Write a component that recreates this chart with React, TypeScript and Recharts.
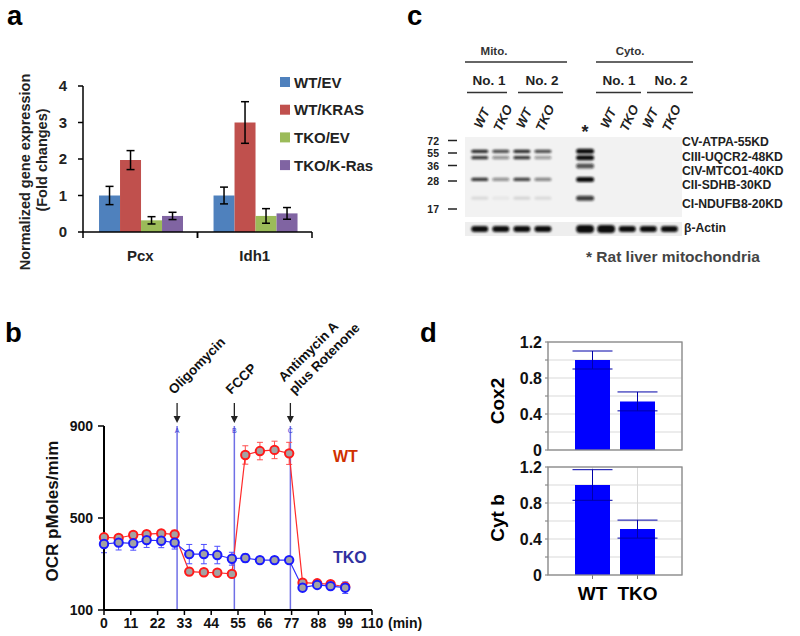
import React from "react";
import {
  BarChart,
  Bar,
  XAxis,
  YAxis,
  CartesianGrid,
  ErrorBar,
  LineChart,
  Line,
  ReferenceLine,
  ScatterChart,
  Scatter,
  ReferenceArea,
} from "recharts";

const FONT = "'Liberation Sans', Arial, Helvetica, sans-serif";

// ---------- a: normalized gene expression ----------
const genes = ["Pcx", "Idh1"];
const groupNames = ["WT/EV", "WT/KRAS", "TKO/EV", "TKO/K-Ras"];
const groupColors = ["#4f81bd", "#c0504d", "#9bbb59", "#8064a2"];
const wtEv = [1.0, 1.0];
const wtEvErr = [0.25, 0.23];
const wtKras = [1.97, 3.0];
const wtKrasErr = [0.26, 0.57];
const tkoEv = [0.32, 0.44];
const tkoEvErr = [0.1, 0.2];
const tkoKras = [0.44, 0.51];
const tkoKrasErr = [0.1, 0.16];
const exprTicks = [0, 1, 2, 3, 4];

// ---------- b: oxygen consumption ----------
const ocrTime = [0, 6, 12, 17.5, 23.5, 29, 35, 41, 46.5, 52.5, 58, 64, 70, 76, 81.5, 87.5, 93, 99];
const wtOcr = [416, 413, 426, 430, 433, 429, 267, 264, 262, 257, 774, 791, 796, 781, 219, 216, 212, 201];
const wtOcrErr = [15, 12, 12, 12, 12, 18, 15, 15, 10, 12, 40, 38, 38, 48, 12, 8, 8, 12];
const tkoOcr = [387, 393, 390, 404, 401, 393, 343, 343, 339, 323, 326, 317, 317, 317, 197, 209, 204, 197];
const tkoOcrErr = [38, 32, 30, 32, 30, 28, 42, 42, 38, 28, 18, 15, 15, 10, 15, 10, 10, 25];
const ocrXTicks = [0, 11, 22, 33, 44, 55, 66, 77, 88, 99, 110];
const ocrYTicks = [100, 500, 900];
const injectionTimes = [30, 53.5, 76.5];
const injectionLetters = ["A", "B", "C"];
const injectionNames = [["Oligomycin"], ["FCCP"], ["Antimycin A", "plus Rotenone"]];

// ---------- c: western blot ----------
const blotLanes = [0, 1, 2, 3, 5, 6, 7, 8, 9];
const blotLaneLabels = ["WT", "TKO", "WT", "TKO", "*", "WT", "TKO", "WT", "TKO"];
const markerLane = 5;
const mwMarkers = [72, 55, 36, 28, 17];
const complexNames = ["CV-ATPA-55KD", "CIII-UQCR2-48KD", "CIV-MTCO1-40KD", "CII-SDHB-30KD", "CI-NDUFB8-20KD"];
const complexKd = [55, 48, 40, 30, 20];
// darkness of each band, rows follow complexKd, columns follow blotLanes
const bandIntensity = [
  [0.9, 0.75, 0.9, 0.75, 1.0, 0, 0, 0, 0],
  [0.85, 0.45, 0.85, 0.4, 1.0, 0, 0, 0, 0],
  [0, 0, 0, 0, 0.7, 0, 0, 0, 0],
  [0.85, 0.45, 0.8, 0.5, 1.0, 0, 0, 0, 0],
  [0.1, 0.05, 0.12, 0.1, 0.8, 0, 0, 0, 0],
];
const actinIntensity = [1, 1, 1, 1, 1, 1, 1, 1, 1];

// ---------- d: mtDNA transcripts ----------
const genotypes = ["WT", "TKO"];
const cox2 = [1.0, 0.54];
const cox2Err = [0.1, 0.105];
const cytB = [1.0, 0.51];
const cytBErr = [0.17, 0.1];
const relTicks = [0, 0.2, 0.4, 0.6, 0.8, 1.0, 1.2];

const exprData = genes.map((gene, i) => ({
  gene,
  g0: wtEv[i], e0: wtEvErr[i],
  g1: wtKras[i], e1: wtKrasErr[i],
  g2: tkoEv[i], e2: tkoEvErr[i],
  g3: tkoKras[i], e3: tkoKrasErr[i],
}));

const ocrData = ocrTime.map((t, i) => ({
  t,
  wt: wtOcr[i],
  wtErr: wtOcrErr[i],
  tko: tkoOcr[i],
  tkoErr: tkoOcrErr[i],
}));

const bandPoints = complexKd.flatMap((kd, r) =>
  blotLanes
    .map((lane, j) => ({ lane, kd, v: bandIntensity[r][j] }))
    .filter((p) => p.v > 0)
);
const actinPoints = blotLanes.map((lane, j) => ({ lane, y: 0.5, v: actinIntensity[j] }));

const cox2Data = genotypes.map((g, i) => ({ genotype: g, v: cox2[i], e: cox2Err[i] }));
const cytBData = genotypes.map((g, i) => ({ genotype: g, v: cytB[i], e: cytBErr[i] }));

// layout
const A = { left: 0, top: 0, width: 320, height: 270, yw: 30, xh: 30, margin: { top: 86, right: 8, bottom: 8, left: 53 } };
const aBand = (A.width - A.margin.left - A.margin.right - A.yw) / genes.length;
const B = { left: 0, top: 310, width: 440, height: 326, yw: 104, xh: 26, margin: { top: 116, right: 68, bottom: 0, left: 0 } };
const C = { left: 400, top: 90, width: 300, height: 127, yw: 65, xh: 47, margin: { top: 0, right: 18, bottom: 0, left: 0 } };
const laneDomain = [-0.7, 9.6];
const D = { left: 490, width: 200, yw: 58, plotH: 108, margin: { top: 12, right: 8, bottom: 0, left: 0 } };
const dTop1 = 330;
const dTop2 = 455;

const boldTick = (size: number, fill = "#111") => ({ fontSize: size, fontWeight: "bold", fill, fontFamily: FONT });

function GeneTick({ x, y, payload }: any) {
  return (
    <g>
      <line x1={x - aBand / 2} x2={x - aBand / 2} y1={y} y2={y + 6} stroke="#000" strokeWidth={1.5} />
      <line x1={x + aBand / 2} x2={x + aBand / 2} y1={y} y2={y + 6} stroke="#000" strokeWidth={1.5} />
      <text x={x} y={y + 29} textAnchor="middle" fontSize={15} fontWeight="bold" fill="#222" fontFamily={FONT}>
        {payload.value}
      </text>
    </g>
  );
}

function InjectionMark({ viewBox, letter, names }: any) {
  const { x, y } = viewBox;
  const n = names.length;
  return (
    <g>
      <text x={x} y={y + 7} textAnchor="middle" fontSize={7} fill="#3b3bd6" fontFamily={FONT}>
        {letter}
      </text>
      <line x1={x} x2={x} y1={y - 23} y2={y - 9} stroke="#222" strokeWidth={1.3} />
      <polygon points={`${x - 3.5},${y - 10} ${x + 3.5},${y - 10} ${x},${y - 3}`} fill="#222" />
      {names.map((name: string, i: number) => {
        const k = n - 1 - i;
        const sx = x - 3 + (n - 1) * 7 - k * 10.5;
        const sy = y - 31 - k * 12.5;
        return (
          <text
            key={name}
            transform={`translate(${sx},${sy}) rotate(-45)`}
            fontSize={13.5}
            fontWeight="bold"
            fill="#111"
            fontFamily={FONT}
          >
            {name}
          </text>
        );
      })}
    </g>
  );
}

function OcrDot({ cx, cy, color }: any) {
  if (cx == null || cy == null) return null;
  return <circle cx={cx} cy={cy} r={4.2} fill="#a3a3a3" stroke={color} strokeWidth={2} />;
}

function LaneTick({ x, y, payload }: any) {
  const j = blotLanes.indexOf(payload.value);
  const label = blotLaneLabels[j];
  if (payload.value === markerLane) {
    return (
      <text x={x} y={y + 1} textAnchor="middle" fontSize={18} fontWeight="bold" fill="#222" fontFamily={FONT}>
        {label}
      </text>
    );
  }
  return (
    <text
      transform={`translate(${x + 2},${y - 19}) rotate(-65)`}
      textAnchor="middle"
      dominantBaseline="central"
      fontSize={13}
      fontWeight="bold"
      fontStyle="italic"
      fill="#222"
      fontFamily={FONT}
    >
      {label}
    </text>
  );
}

function Band({ cx, cy, payload }: any) {
  if (cx == null || cy == null) return null;
  const w = payload.lane === markerLane ? 18 : 17;
  const h = payload.lane === markerLane ? 5 : 3.4;
  return <rect x={cx - w / 2} y={cy - h / 2} width={w} height={h} rx={h / 2} fill="#111" fillOpacity={payload.v} filter="url(#bandBlur)" />;
}

function ActinBand({ cx, cy, payload }: any) {
  if (cx == null || cy == null) return null;
  const big = payload.lane === markerLane || payload.lane === markerLane + 1;
  const w = big ? 18 : 17;
  const h = big ? 8 : 6;
  return <rect x={cx - w / 2} y={cy - h / 2} width={w} height={h} rx={h / 2} fill="#0a0a0a" fillOpacity={payload.v} filter="url(#bandBlur)" />;
}

function relLabel(v: number) {
  if (Math.round(v * 10) % 4 !== 0) return "";
  return v === 0 ? "0" : v.toFixed(1);
}

function RelChart({ data, top, showLabels }: any) {
  const xh = showLabels ? 30 : 8;
  return (
    <div style={{ position: "absolute", left: D.left, top }}>
      <BarChart width={D.width} height={D.margin.top + D.plotH + xh} data={data} margin={D.margin}>
        <CartesianGrid stroke="#d9d9d9" />
        <XAxis
          dataKey="genotype"
          height={xh}
          padding={{ left: 22, right: 22 }}
          axisLine={false}
          tickLine={{ stroke: "#777" }}
          tickSize={4}
          tickMargin={8}
          tick={showLabels ? boldTick(19, "#000") : false}
        />
        <YAxis
          width={D.yw}
          domain={[0, 1.2]}
          ticks={relTicks}
          interval={0}
          axisLine={false}
          tickLine={{ stroke: "#777" }}
          tickSize={3}
          tickMargin={3}
          tickFormatter={relLabel}
          tick={boldTick(16, "#111")}
        />
        <Bar dataKey="v" fill="#0000ff" barSize={35} isAnimationActive={false}>
          <ErrorBar dataKey="e" width={20} stroke="#0000a8" strokeWidth={1} direction="y" />
        </Bar>
      </BarChart>
    </div>
  );
}

export default function App() {
  const dPlotLeft = D.left + D.yw;
  const dPlotW = D.width - D.yw - D.margin.right;
  return (
    <div style={{ position: "absolute", left: 0, top: 0, width: 800, height: 636, background: "#fff", fontFamily: FONT }}>
      {/* a */}
      <div style={{ position: "absolute", left: A.left, top: A.top }}>
        <BarChart width={A.width} height={A.height} data={exprData} margin={A.margin} barCategoryGap="14%" barGap={0}>
          <XAxis
            dataKey="gene"
            height={A.xh}
            axisLine={{ stroke: "#000", strokeWidth: 1.5 }}
            tickLine={false}
            tickSize={0}
            tickMargin={0}
            tick={<GeneTick />}
          />
          <YAxis
            width={A.yw}
            domain={[0, 4]}
            ticks={exprTicks}
            axisLine={{ stroke: "#000", strokeWidth: 1.5 }}
            tickLine={{ stroke: "#000", strokeWidth: 1.5 }}
            tickSize={5}
            tickMargin={11}
            tick={boldTick(15, "#222")}
          />
          {groupNames.map((name, i) => (
            <Bar key={name} dataKey={`g${i}`} name={name} fill={groupColors[i]} isAnimationActive={false}>
              <ErrorBar dataKey={`e${i}`} width={4} stroke="#000" strokeWidth={1.5} direction="y" />
            </Bar>
          ))}
        </BarChart>
      </div>

      {/* b */}
      <div style={{ position: "absolute", left: B.left, top: B.top }}>
        <LineChart width={B.width} height={B.height} data={ocrData} margin={B.margin}>
          <XAxis
            dataKey="t"
            type="number"
            domain={[0, 110]}
            ticks={ocrXTicks}
            interval={0}
            height={B.xh}
            axisLine={{ stroke: "#000", strokeWidth: 2 }}
            tickLine={{ stroke: "#000", strokeWidth: 1.5 }}
            tickSize={5}
            tickMargin={3}
            tick={boldTick(14, "#111")}
          />
          <YAxis
            width={B.yw}
            domain={[100, 900]}
            ticks={ocrYTicks}
            axisLine={{ stroke: "#000", strokeWidth: 2 }}
            tickLine={{ stroke: "#000", strokeWidth: 1.5 }}
            tickSize={6}
            tickMargin={5}
            tick={boldTick(14, "#111")}
          />
          {injectionTimes.map((t, i) => (
            <ReferenceLine
              key={t}
              x={t}
              stroke="#6f6fe6"
              strokeWidth={1.5}
              label={(p: any) => <InjectionMark viewBox={p.viewBox} letter={injectionLetters[i]} names={injectionNames[i]} />}
            />
          ))}
          <Line dataKey="wt" stroke="#ff2a2a" strokeWidth={1.2} dot={<OcrDot color="#ff1a1a" />} isAnimationActive={false}>
            <ErrorBar dataKey="wtErr" width={3} stroke="#ff4d4d" strokeWidth={1} direction="y" />
          </Line>
          <Line dataKey="tko" stroke="#2a2aff" strokeWidth={1.2} dot={<OcrDot color="#1a1aff" />} isAnimationActive={false}>
            <ErrorBar dataKey="tkoErr" width={3} stroke="#4d4dff" strokeWidth={1} direction="y" />
          </Line>
        </LineChart>
      </div>

      {/* c */}
      <div style={{ position: "absolute", left: C.left, top: C.top }}>
        <ScatterChart width={C.width} height={C.height} margin={C.margin}>
          <XAxis
            dataKey="lane"
            type="number"
            orientation="top"
            domain={laneDomain}
            ticks={blotLanes}
            interval={0}
            height={C.xh}
            axisLine={false}
            tickLine={false}
            tickSize={0}
            tickMargin={0}
            tick={<LaneTick />}
          />
          <YAxis
            dataKey="kd"
            type="number"
            scale="log"
            domain={[13.3, 75]}
            width={C.yw}
            axisLine={false}
            tickLine={false}
            tick={false}
          />
          <ReferenceArea x1={laneDomain[0]} x2={laneDomain[1]} y1={13.3} y2={75} fill="#f2f2f2" fillOpacity={1} stroke="none" />
          <Scatter data={bandPoints} shape={<Band />} isAnimationActive={false} />
        </ScatterChart>
      </div>
      <div style={{ position: "absolute", left: C.left, top: 222 }}>
        <ScatterChart width={C.width} height={14} margin={{ top: 0, right: C.margin.right, bottom: 0, left: C.yw }}>
          <XAxis dataKey="lane" type="number" domain={laneDomain} hide />
          <YAxis dataKey="y" type="number" domain={[0, 1]} hide />
          <ReferenceArea x1={laneDomain[0]} x2={laneDomain[1]} y1={0} y2={1} fill="#eeeeee" fillOpacity={1} stroke="none" />
          <Scatter data={actinPoints} shape={<ActinBand />} isAnimationActive={false} />
        </ScatterChart>
      </div>

      {/* d */}
      <RelChart data={cox2Data} top={dTop1} showLabels={false} />
      <RelChart data={cytBData} top={dTop2} showLabels={true} />

      {/* annotations */}
      <svg width={800} height={636} style={{ position: "absolute", left: 0, top: 0, pointerEvents: "none" }} fontFamily={FONT}>
        <defs>
          <filter id="bandBlur" x="-50%" y="-200%" width="200%" height="500%">
            <feGaussianBlur stdDeviation="0.9" />
          </filter>
        </defs>

        <g fontSize={27.5} fontWeight="bold" fill="#000">
          <text x={7} y={25}>a</text>
          <text x={5} y={342}>b</text>
          <text x={407} y={25}>c</text>
          <text x={420} y={342}>d</text>
        </g>

        {/* a */}
        <g fontSize={14.5} fontWeight="bold" fill="#222" textAnchor="middle" dominantBaseline="central">
          <text transform="translate(25,172) rotate(-90)">Normalized gene expression</text>
          <text transform="translate(41.5,160) rotate(-90)">(Fold changes)</text>
        </g>
        {groupNames.map((name, i) => (
          <g key={name}>
            <rect x={280} y={82 + i * 27.7 - 5} width={10} height={10} fill={groupColors[i]} />
            <text x={294} y={82 + i * 27.7 + 5.5} fontSize={15} fontWeight="bold" fill="#222">
              {name}
            </text>
          </g>
        ))}

        {/* b */}
        <text transform="translate(52,511) rotate(-90)" textAnchor="middle" dominantBaseline="central" fontSize={17} fontWeight="bold" fill="#111">
          OCR pMoles/mim
        </text>
        <text x={333} y={462} fontSize={16} fontWeight="bold" fill="#d03000">WT</text>
        <text x={333} y={563} fontSize={16} fontWeight="bold" fill="#3030a0">TKO</text>
        <text x={388} y={628} fontSize={14} fontWeight="bold" fill="#111">(min)</text>

        {/* c */}
        <g fontSize={11.5} fontWeight="bold" fill="#333" textAnchor="middle">
          <text x={494} y={55}>Mito.</text>
          <text x={630} y={55}>Cyto.</text>
        </g>
        <g fontSize={13.5} fontWeight="bold" fill="#222" textAnchor="middle">
          <text x={489} y={85}>No. 1</text>
          <text x={542} y={85}>No. 2</text>
          <text x={619} y={85}>No. 1</text>
          <text x={671} y={85}>No. 2</text>
        </g>
        <g stroke="#333" strokeWidth={1.3}>
          <line x1={465} x2={567} y1={62} y2={62} />
          <line x1={596} x2={693} y1={62} y2={62} />
          <line x1={467} x2={507} y1={92.5} y2={92.5} />
          <line x1={518} x2={563} y1={92.5} y2={92.5} />
          <line x1={596} x2={641} y1={92.5} y2={92.5} />
          <line x1={647} x2={693} y1={92.5} y2={92.5} />
        </g>
        {mwMarkers.map((mw, i) => {
          const y = [140.5, 153, 165.5, 181, 209][i];
          return (
            <g key={mw}>
              <line x1={448} x2={457} y1={y} y2={y} stroke="#222" strokeWidth={1.5} />
              <text x={439} y={y} textAnchor="end" dominantBaseline="central" fontSize={10.5} fontWeight="bold" fill="#222">
                {mw}
              </text>
            </g>
          );
        })}
        <g fontSize={12.2} fontWeight="bold" fill="#222">
          {complexNames.map((name, i) => (
            <text key={name} x={682} y={[145.5, 161, 174.5, 188.5, 208][i]}>
              {name}
            </text>
          ))}
          <text x={684} y={232}>β-Actin</text>
        </g>
        <text x={673} y={262} textAnchor="middle" fontSize={15.5} fontWeight="bold" fill="#444">
          * Rat liver mitochondria
        </text>

        {/* d */}
        <g fill="none" stroke="#8a8a8a" strokeWidth={1.3}>
          <rect x={dPlotLeft} y={dTop1 + D.margin.top} width={dPlotW} height={D.plotH} />
          <rect x={dPlotLeft} y={dTop2 + D.margin.top} width={dPlotW} height={D.plotH} />
        </g>
        <g fontSize={19} fontWeight="bold" fill="#000" textAnchor="middle" dominantBaseline="central">
          <text transform="translate(497,401) rotate(-90)">Cox2</text>
          <text transform="translate(497,518) rotate(-90)">Cyt b</text>
        </g>
      </svg>
    </div>
  );
}
